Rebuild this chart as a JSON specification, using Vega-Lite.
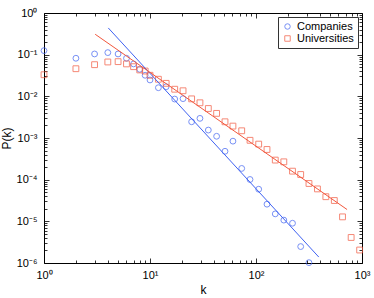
{
  "$schema": "https://vega.github.io/schema/vega-lite/v6.json",
  "width": 318,
  "height": 250,
  "autosize": "none",
  "padding": {"left": 44, "top": 13, "right": 12, "bottom": 35},
  "background": "white",
  "config": {
    "font": "Liberation Sans",
    "view": {"stroke": "black", "strokeWidth": 1},
    "axis": {
      "domain": false,
      "grid": false,
      "tickColor": "black",
      "tickWidth": 0.8,
      "labelColor": "black",
      "labelFontSize": 11,
      "labelOverlap": false,
      "labelBound": false,
      "labelFlush": false,
      "titleFontSize": 12,
      "titleFontWeight": "normal",
      "titleColor": "black"
    }
  },
  "datasets": {
    "points": [
      {"k": 1, "p": 0.125, "series": "Companies"},
      {"k": 2, "p": 0.082, "series": "Companies"},
      {"k": 3, "p": 0.104, "series": "Companies"},
      {"k": 4, "p": 0.112, "series": "Companies"},
      {"k": 5, "p": 0.104, "series": "Companies"},
      {"k": 6, "p": 0.082, "series": "Companies"},
      {"k": 7, "p": 0.060, "series": "Companies"},
      {"k": 8, "p": 0.0446, "series": "Companies"},
      {"k": 9, "p": 0.032, "series": "Companies"},
      {"k": 10, "p": 0.0247, "series": "Companies"},
      {"k": 12, "p": 0.0161, "series": "Companies"},
      {"k": 14.2, "p": 0.017, "series": "Companies"},
      {"k": 17.1, "p": 0.0086, "series": "Companies"},
      {"k": 20.5, "p": 0.0088, "series": "Companies"},
      {"k": 24.7, "p": 0.00245, "series": "Companies"},
      {"k": 29.6, "p": 0.00296, "series": "Companies"},
      {"k": 35.5, "p": 0.00155, "series": "Companies"},
      {"k": 42.5, "p": 0.0011, "series": "Companies"},
      {"k": 51, "p": 0.00048, "series": "Companies"},
      {"k": 60.6, "p": 0.00084, "series": "Companies"},
      {"k": 73.3, "p": 0.000186, "series": "Companies"},
      {"k": 87.8, "p": 0.000101, "series": "Companies"},
      {"k": 106, "p": 0.000059, "series": "Companies"},
      {"k": 127, "p": 0.0000258, "series": "Companies"},
      {"k": 152, "p": 0.0000151, "series": "Companies"},
      {"k": 183, "p": 0.0000107, "series": "Companies"},
      {"k": 221, "p": 0.000009, "series": "Companies"},
      {"k": 264, "p": 0.00000248, "series": "Companies"},
      {"k": 316, "p": 0.00000102, "series": "Companies"},
      {"k": 1, "p": 0.033, "series": "Universities"},
      {"k": 2, "p": 0.046, "series": "Universities"},
      {"k": 3, "p": 0.0575, "series": "Universities"},
      {"k": 4, "p": 0.0668, "series": "Universities"},
      {"k": 5, "p": 0.068, "series": "Universities"},
      {"k": 6, "p": 0.060, "series": "Universities"},
      {"k": 7, "p": 0.0515, "series": "Universities"},
      {"k": 8, "p": 0.043, "series": "Universities"},
      {"k": 9, "p": 0.0405, "series": "Universities"},
      {"k": 10, "p": 0.032, "series": "Universities"},
      {"k": 12, "p": 0.0257, "series": "Universities"},
      {"k": 14.2, "p": 0.0205, "series": "Universities"},
      {"k": 17.1, "p": 0.0148, "series": "Universities"},
      {"k": 20.5, "p": 0.0136, "series": "Universities"},
      {"k": 24.7, "p": 0.0087, "series": "Universities"},
      {"k": 29.6, "p": 0.0070, "series": "Universities"},
      {"k": 35.5, "p": 0.0051, "series": "Universities"},
      {"k": 42.5, "p": 0.0039, "series": "Universities"},
      {"k": 51, "p": 0.00245, "series": "Universities"},
      {"k": 60.6, "p": 0.00193, "series": "Universities"},
      {"k": 73.3, "p": 0.00149, "series": "Universities"},
      {"k": 87.8, "p": 0.00088, "series": "Universities"},
      {"k": 106, "p": 0.000713, "series": "Universities"},
      {"k": 127, "p": 0.00053, "series": "Universities"},
      {"k": 152, "p": 0.000295, "series": "Universities"},
      {"k": 183, "p": 0.000268, "series": "Universities"},
      {"k": 221, "p": 0.00016, "series": "Universities"},
      {"k": 264, "p": 0.000133, "series": "Universities"},
      {"k": 316, "p": 0.000081, "series": "Universities"},
      {"k": 380, "p": 0.00006, "series": "Universities"},
      {"k": 456, "p": 0.000039, "series": "Universities"},
      {"k": 548, "p": 0.0000316, "series": "Universities"},
      {"k": 655, "p": 0.0000128, "series": "Universities"},
      {"k": 790, "p": 0.0000041, "series": "Universities"},
      {"k": 950, "p": 0.00000205, "series": "Universities"}
    ],
    "fits": [
      {"k": 4.04, "p": 0.438, "series": "Companies"},
      {"k": 391, "p": 0.00000139, "series": "Companies"},
      {"k": 3.04, "p": 0.309, "series": "Universities"},
      {"k": 723, "p": 0.0000192, "series": "Universities"}
    ]
  },
  "layer": [
    {
      "data": {"name": "points"},
      "mark": {"type": "point", "filled": false, "size": 34, "strokeWidth": 1},
      "encoding": {
        "x": {
          "field": "k", "type": "quantitative",
          "scale": {"type": "log", "domain": [1, 1000], "nice": false},
          "axis": {
            "orient": "bottom",
            "title": "k",
            "values": [1,2,3,4,5,6,7,8,9,10,20,30,40,50,60,70,80,90,100,200,300,400,500,600,700,800,900,1000],
            "tickSize": {"condition": {"test": "abs(log(datum.value)/LN10 - round(log(datum.value)/LN10)) < 0.001", "value": -5}, "value": -3},
            "labelPadding": 11,
            "titlePadding": 2,
            "labelExpr": "abs(log(datum.value)/LN10 - round(log(datum.value)/LN10)) < 0.001 ? '10' + (round(log(datum.value)/LN10) < 0 ? '⁻' : '') + substring('⁰¹²³⁴⁵⁶⁷⁸⁹', abs(round(log(datum.value)/LN10)), abs(round(log(datum.value)/LN10)) + 1) : ''"
          }
        },
        "y": {
          "field": "p", "type": "quantitative",
          "scale": {"type": "log", "domain": [0.000001, 1], "nice": false},
          "axis": {
            "orient": "left",
            "title": "P(k)",
            "values": [0.000001,0.000002,0.000003,0.000004,0.000005,0.000006,0.000007,0.000008,0.000009,0.00001,0.00002,0.00003,0.00004,0.00005,0.00006,0.00007,0.00008,0.00009,0.0001,0.0002,0.0003,0.0004,0.0005,0.0006,0.0007,0.0008,0.0009,0.001,0.002,0.003,0.004,0.005,0.006,0.007,0.008,0.009,0.01,0.02,0.03,0.04,0.05,0.06,0.07,0.08,0.09,0.1,0.2,0.3,0.4,0.5,0.6,0.7,0.8,0.9,1],
            "tickSize": {"condition": {"test": "abs(log(datum.value)/LN10 - round(log(datum.value)/LN10)) < 0.001", "value": -5}, "value": -3},
            "labelPadding": 12,
            "titlePadding": 3,
            "labelExpr": "abs(log(datum.value)/LN10 - round(log(datum.value)/LN10)) < 0.001 ? '10' + (round(log(datum.value)/LN10) < 0 ? '⁻' : '') + substring('⁰¹²³⁴⁵⁶⁷⁸⁹', abs(round(log(datum.value)/LN10)), abs(round(log(datum.value)/LN10)) + 1) : ''"
          }
        },
        "color": {
          "field": "series", "type": "nominal",
          "scale": {"domain": ["Companies", "Universities"], "range": ["#3f62f2", "#f2573d"]},
          "legend": {
            "title": null,
            "orient": "top-right",
            "offset": 4,
            "padding": 4,
            "strokeColor": "#333333",
            "fillColor": "white",
            "labelFontSize": 11,
            "labelColor": "black",
            "symbolSize": 30,
            "symbolStrokeWidth": 1,
            "rowPadding": 0,
            "cornerRadius": 0
          }
        },
        "shape": {
          "field": "series", "type": "nominal",
          "scale": {"domain": ["Companies", "Universities"], "range": ["circle", "square"]},
          "legend": {
            "title": null,
            "orient": "top-right",
            "offset": 4,
            "padding": 4,
            "strokeColor": "#333333",
            "fillColor": "white",
            "labelFontSize": 11,
            "labelColor": "black",
            "symbolSize": 30,
            "symbolStrokeWidth": 1,
            "rowPadding": 0,
            "cornerRadius": 0
          }
        }
      }
    },
    {
      "data": {"name": "fits"},
      "mark": {"type": "line", "strokeWidth": 1},
      "encoding": {
        "x": {
          "field": "k", "type": "quantitative",
          "axis": {
            "orient": "top", "title": null, "labels": false,
            "values": [1,2,3,4,5,6,7,8,9,10,20,30,40,50,60,70,80,90,100,200,300,400,500,600,700,800,900,1000],
            "tickSize": {"condition": {"test": "abs(log(datum.value)/LN10 - round(log(datum.value)/LN10)) < 0.001", "value": -5}, "value": -3}
          }
        },
        "y": {
          "field": "p", "type": "quantitative",
          "axis": {
            "orient": "right", "title": null, "labels": false,
            "values": [0.000001,0.000002,0.000003,0.000004,0.000005,0.000006,0.000007,0.000008,0.000009,0.00001,0.00002,0.00003,0.00004,0.00005,0.00006,0.00007,0.00008,0.00009,0.0001,0.0002,0.0003,0.0004,0.0005,0.0006,0.0007,0.0008,0.0009,0.001,0.002,0.003,0.004,0.005,0.006,0.007,0.008,0.009,0.01,0.02,0.03,0.04,0.05,0.06,0.07,0.08,0.09,0.1,0.2,0.3,0.4,0.5,0.6,0.7,0.8,0.9,1],
            "tickSize": {"condition": {"test": "abs(log(datum.value)/LN10 - round(log(datum.value)/LN10)) < 0.001", "value": -5}, "value": -3}
          }
        },
        "stroke": {
          "field": "series", "type": "nominal",
          "scale": {"domain": ["Companies", "Universities"], "range": ["#3f62f2", "#f2573d"]},
          "legend": null
        }
      }
    }
  ],
  "resolve": {"axis": {"x": "independent", "y": "independent"}}
}
